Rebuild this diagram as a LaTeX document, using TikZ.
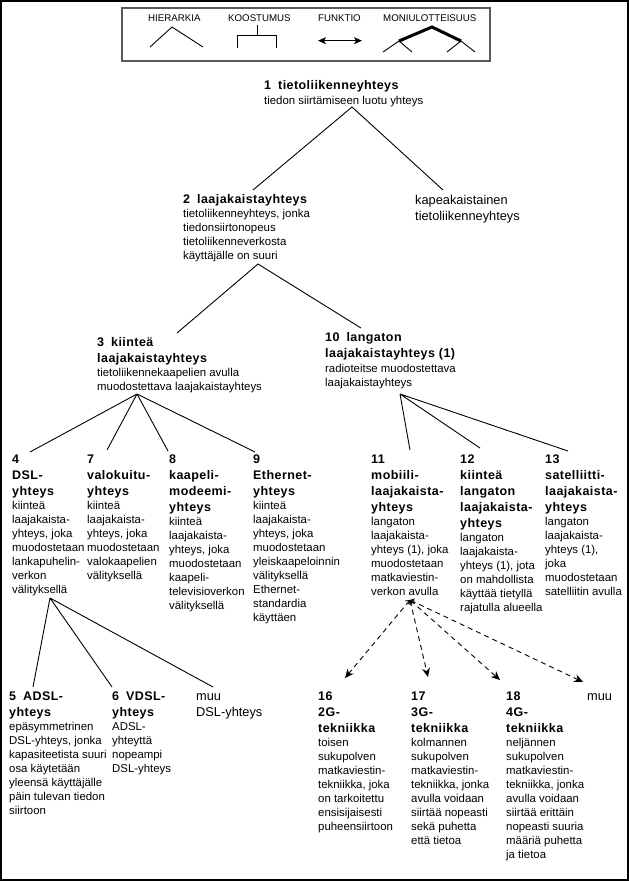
\documentclass[tikz,border=0pt]{standalone}
\usepackage{fontspec}
\setmainfont{Liberation Sans}
\newfontfamily\ttlfam[LetterSpace=3.5]{Liberation Sans}
\usetikzlibrary{arrows.meta}
\tikzset{
  ttl/.style={anchor=base west, inner sep=0pt, font=\ttlfam\bfseries\fontsize{12.5}{16}\selectfont},
  bdy/.style={anchor=base west, inner sep=0pt, font=\fontsize{11.4}{14}\selectfont},
  reg/.style={anchor=base west, inner sep=0pt, font=\fontsize{12.8}{16}\selectfont},
  leg/.style={anchor=base west, inner sep=0pt, font=\fontsize{9.7}{11}\selectfont},
  link/.style={line width=0.9pt},
  thick link/.style={line width=3pt},
  fn/.style={line width=0.9pt, dash pattern=on 5pt off 4pt,
    {Straight Barb[length=3pt,width=6pt]}-{Stealth[length=9pt,width=8pt,inset=3pt]}},
  legarrow/.style={line width=1pt,
    {Stealth[length=8pt,width=7pt,inset=2pt]}-{Stealth[length=8pt,width=7pt,inset=2pt]}},
}
% #1 name, #2 x, #3 first title baseline, #4 title lines, #5 body lines
\newcommand\concept[5]{%
  \foreach \t [count=\i] in {#4}{\node[ttl,name=#1-t\i] at (#2,{#3+16*(\i-1)}) {\t}; \global\let\ntl\i}%
  \foreach \b [count=\j] in {#5}{\node[bdy,name=#1-b\j] at (#2,{#3+16*(\ntl-1)+14.5+14*(\j-1)}) {\b};}%
}
\begin{document}
\begin{tikzpicture}[x=1pt,y=-1pt]
\useasboundingbox (0,0) rectangle (629,881);
\draw[line width=1.6pt] (0.8,0.8) rectangle (628.2,880.2);

% legend
\draw[line width=1.5pt, draw=black!65] (122,8) rectangle (490,61);
\node[leg] (lh) at (148,21.5) {HIERARKIA};
\node[leg] (lk) at (228,21.5) {KOOSTUMUS};
\node[leg] (lf) at (318,21.5) {FUNKTIO};
\node[leg] (lm) at (383,21.5) {MONIULOTTEISUUS};
\coordinate (h1) at (150,47); \coordinate (h2) at (172,27); \coordinate (h3) at (203,47);
\draw[link] (h1) -- (h2) -- (h3);
\coordinate (k0) at (257,25); \coordinate (k1) at (257,35);
\coordinate (k2) at (237,48); \coordinate (k3) at (237,35); \coordinate (k4) at (276,35); \coordinate (k5) at (276,48);
\draw[link] (k0) -- (k1);
\draw[link] (k2) -- (k3) -- (k4) -- (k5);
\coordinate (f1) at (318,40.7); \coordinate (f2) at (362,40.7);
\draw[legarrow] (f1) -- (f2);
\coordinate (m1) at (399,41); \coordinate (m2) at (432,27); \coordinate (m3) at (461,41);
\coordinate (m4) at (383,52); \coordinate (m5) at (412,52); \coordinate (m6) at (447,52); \coordinate (m7) at (475,52);
\draw[thick link] (m1) -- (m2) -- (m3);
\draw[link] (m4) -- (m1) -- (m5);
\draw[link] (m6) -- (m3) -- (m7);

% concepts
\concept{n1}{264}{89.5}{1\hspace{7pt}tietoliikenneyhteys}{tiedon siirtämiseen luotu yhteys}
\concept{n2}{183}{203}{2\hspace{7pt}laajakaistayhteys}{{tietoliikenneyhteys, jonka},tiedonsiirtonopeus,tietoliikenneverkosta,käyttäjälle on suuri}
\node[reg] (kap1) at (415,204) {kapeakaistainen};
\node[reg] (kap2) at (415,220.5) {tietoliikenneyhteys};
\concept{n3}{97}{346}{3\hspace{7pt}kiinteä,laajakaistayhteys}{tietoliikennekaapelien avulla,muodostettava laajakaistayhteys}
\concept{n10}{325}{341.5}{10\hspace{7pt}langaton,laajakaistayhteys (1)}{radioteitse muodostettava,laajakaistayhteys}
\concept{n4}{12}{463}{4,DSL-,yhteys}{kiinteä,laajakaista-,{yhteys, joka},muodostetaan,lankapuhelin-,verkon,välityksellä}
\concept{n7}{87}{463}{7,valokuitu-,yhteys}{kiinteä,laajakaista-,{yhteys, joka},muodostetaan,valokaapelien,välityksellä}
\concept{n8}{169}{463}{8,kaapeli-,modeemi-,yhteys}{kiinteä,laajakaista-,{yhteys, joka},muodostetaan,kaapeli-,televisioverkon,välityksellä}
\concept{n9}{253}{463}{9,Ethernet-,yhteys}{kiinteä,laajakaista-,{yhteys, joka},muodostetaan,yleiskaapeloinnin,välityksellä,Ethernet-,standardia,käyttäen}
\concept{n11}{371}{463}{11,mobiili-,laajakaista-,yhteys}{langaton,laajakaista-,{yhteys (1), joka},muodostetaan,matkaviestin-,verkon avulla}
\concept{n12}{460}{463}{12,kiinteä,langaton,laajakaista-,yhteys}{langaton,laajakaista-,{yhteys (1), jota},on mahdollista,käyttää tietyllä,rajatulla alueella}
\concept{n13}{545}{463}{13,satelliitti-,laajakaista-,yhteys}{langaton,laajakaista-,{yhteys (1),},joka,muodostetaan,satelliitin avulla}
\concept{n5}{9}{700}{5\hspace{7pt}ADSL-,yhteys}{epäsymmetrinen,{DSL-yhteys, jonka},kapasiteetista suuri,osa käytetään,yleensä käyttäjälle,päin tulevan tiedon,siirtoon}
\concept{n6}{112}{700}{6\hspace{7pt}VDSL-,yhteys}{ADSL-,yhteyttä,nopeampi,DSL-yhteys}
\node[reg] (muu1a) at (196,700) {muu};
\node[reg] (muu1b) at (196,716) {DSL-yhteys};
\concept{n16}{318}{700}{16,2G-,tekniikka}{toisen,sukupolven,matkaviestin-,{tekniikka, joka},on tarkoitettu,ensisijaisesti,puheensiirtoon}
\concept{n17}{411}{700}{17,3G-,tekniikka}{kolmannen,sukupolven,matkaviestin-,{tekniikka, jonka},avulla voidaan,siirtää nopeasti,sekä puhetta,että tietoa}
\concept{n18}{506}{700}{18,4G-,tekniikka}{neljännen,sukupolven,matkaviestin-,{tekniikka, jonka},avulla voidaan,siirtää erittäin,nopeasti suuria,määriä puhetta,ja tietoa}
\node[reg] (muu2) at (587,700) {muu};

% connector points
\coordinate (a1) at (352,107);
\coordinate (e2) at (253,190); \coordinate (ekap) at (443,190);
\coordinate (a2) at (258,264);
\coordinate (e3) at (177,333); \coordinate (e10) at (361,328);
\coordinate (a3) at (137,394);
\coordinate (e4) at (30,452); \coordinate (e7) at (107,450); \coordinate (e8) at (168,451); \coordinate (e9) at (255,452);
\coordinate (a10) at (400,394);
\coordinate (e11) at (410,450); \coordinate (e12) at (480,448); \coordinate (e13) at (568,451);
\coordinate (a4) at (50,598);
\coordinate (e5) at (33,687); \coordinate (e6) at (112,687); \coordinate (emuu1) at (213,687);
\coordinate (a11) at (410,600);
\coordinate (e16) at (345,678); \coordinate (e17) at (428,677); \coordinate (e18) at (500,680); \coordinate (emuu2) at (583,682);

\draw[link] (e2) -- (a1) -- (ekap);
\draw[link] (e3) -- (a2) -- (e10);
\draw[link] (a3) -- (e4) (a3) -- (e7) (a3) -- (e8) (a3) -- (e9);
\draw[link] (a10) -- (e11) (a10) -- (e12) (a10) -- (e13);
\draw[link] (a4) -- (e5) (a4) -- (e6) (a4) -- (emuu1);
\draw[fn] (a11) -- (e16);
\draw[fn] (a11) -- (e17);
\draw[fn] (a11) -- (e18);
\draw[fn] (a11) -- (emuu2);
\end{tikzpicture}
\end{document}
